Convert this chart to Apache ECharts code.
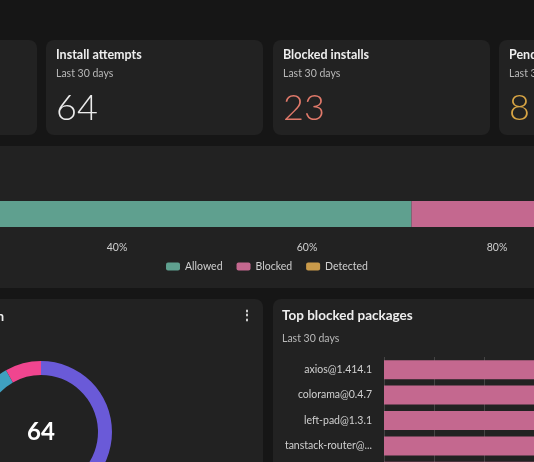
<!DOCTYPE html><html><head><meta charset="utf-8"><script src="https://cdn.jsdelivr.net/npm/echarts@6/dist/echarts.min.js"></script>
<style>html,body{margin:0;background:#161616}#c{width:534px;height:462px}</style></head><body><div id="c"></div><script>
const decisionNames=['Allowed','Blocked','Detected'];
const decisionPct=[71,23,6];
const donutNames=['Allowed','Detected','Blocked'];
const donutValues=[53,3,5];
const pkgNames=['axios@1.414.1','colorama@0.4.7','left-pad@1.3.1','tanstack-router@1.120.5','lodash@4.17.21'];
const pkgValues=[9,9,9,9,9];
const cardTitles=['Install attempts','Blocked installs','Pending'];
const cardValues=['64','23','8'];
const colors=['#5fa08f','#c4688f','#c99a4a'];
const F='Lato, sans-serif';
const ch=echarts.init(document.getElementById('c'));
const card=(x,y,w,h)=>({type:'rect',shape:{x,y,width:w,height:h,r:8},style:{fill:'#222222'},z:-10});
const txt=(x,y,t,s,c,w,align)=>({type:'text',x,y,style:{text:t,fontSize:s,fill:c,fontWeight:w||'normal',fontFamily:F,align:align||'left'},z:5});
const numCol=['#ececec','#e0796a','#d8a544'];
const g=[card(-200,40,237,95),card(46,40,217,95),card(273,40,217,95),card(499,40,217,95),
 card(-200,146,934,142),card(-200,299,463,200),card(273,299,400,200)];
[56,283,509].forEach((x,i)=>{g.push(txt(x,48,cardTitles[i],12.5,'#eeeeee','bold'));g.push(txt(x,68,'Last 30 days',10.5,'#b8b8b8'));g.push(txt(x,90,cardValues[i],36,numCol[i],'300'));});
g.push(txt(4,310,'Install distribution',13,'#eeeeee','bold','right'));
g.push(txt(247,308,'⋮',14,'#cccccc','bold','center'));
g.push(txt(282,309,'Top blocked packages',13.5,'#eeeeee','bold'));
g.push(txt(282,333,'Last 30 days',10.5,'#b8b8b8'));
g.push(txt(41,432,'64',24,'#ffffff','bold','center'));
g[g.length-1].style.verticalAlign='middle';
ch.setOption({backgroundColor:'#161616',graphic:g,
 legend:{data:decisionNames,bottom:185,left:'center',icon:'roundRect',itemWidth:14,itemHeight:8,itemGap:14,textStyle:{color:'#cfcfcf',fontSize:10.5,fontFamily:F}},
 grid:[{left:-263,width:950,top:201,height:26,outerBoundsMode:'none',containLabel:false},{left:384,width:500,top:357,height:127,outerBoundsMode:'none',containLabel:false}],
 xAxis:[{gridIndex:0,type:'value',min:0,max:100,interval:20,axisLabel:{formatter:'{value}%',color:'#cfcfcf',fontSize:10.5,fontFamily:F,margin:15},splitLine:{lineStyle:{color:'#3a3a3a'}},axisLine:{show:false},axisTick:{show:false}},
  {gridIndex:1,type:'value',min:0,max:10,interval:1,axisLabel:{show:false},splitLine:{lineStyle:{color:'#444'}},axisLine:{show:false},axisTick:{show:false}}],
 yAxis:[{gridIndex:0,type:'category',data:['d'],show:false},
  {gridIndex:1,type:'category',data:pkgNames,inverse:true,axisLine:{show:false},axisTick:{show:false},axisLabel:{color:'#d0d0d0',fontSize:10.5,fontFamily:F,margin:12,width:90,overflow:'truncate',ellipsis:'...'}}],
 series:[...decisionNames.map((n,i)=>({name:n,type:'bar',stack:'a',xAxisIndex:0,yAxisIndex:0,data:[decisionPct[i]],barWidth:26,itemStyle:{color:colors[i]},silent:true})),
  {type:'bar',xAxisIndex:1,yAxisIndex:1,data:pkgValues,barWidth:19,itemStyle:{color:'#c4688f'},silent:true},
  {type:'pie',center:[41,432],radius:[57,71],startAngle:90,clockwise:true,label:{show:false},silent:true,
   data:donutNames.map((n,i)=>({name:n+' ',value:donutValues[i],itemStyle:{color:['#6a5ad8','#3fa0c0','#f0458f'][i]}}))}]
});
</script></body></html>
